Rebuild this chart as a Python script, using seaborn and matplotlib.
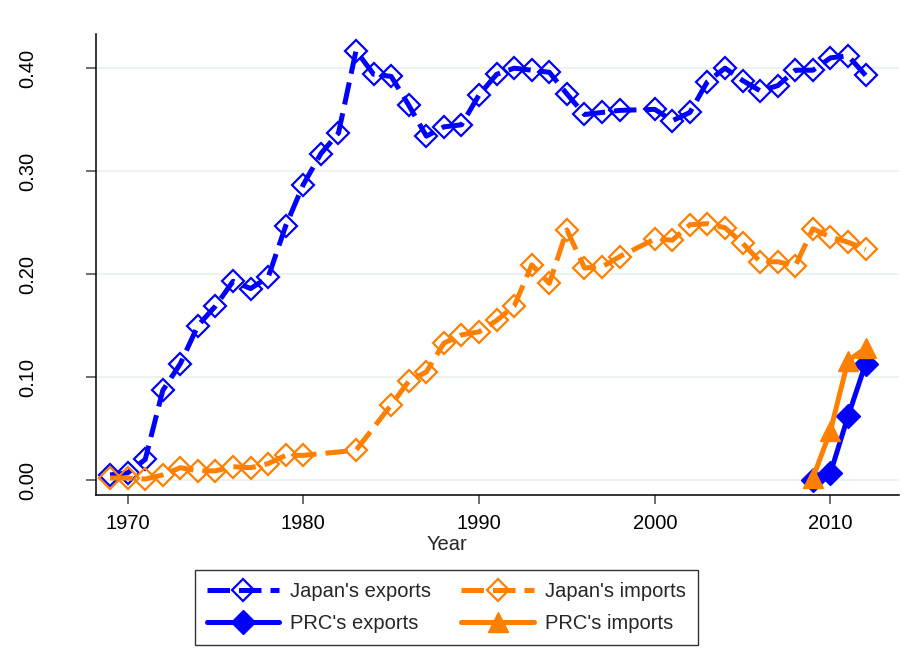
"""
Japan vs PRC trade shares, 1969-2012, drawn with seaborn line plots.
"""

import matplotlib
matplotlib.use("Agg")
import matplotlib.pyplot as plt
from matplotlib.ticker import FormatStrFormatter
import seaborn as sns

# Japan's exports (1999 not reported)
jp_exp_years = [1969, 1970, 1971, 1972, 1973, 1974, 1975, 1976, 1977, 1978,
                1979, 1980, 1981, 1982, 1983, 1984, 1985, 1986, 1987, 1988,
                1989, 1990, 1991, 1992, 1993, 1994, 1995, 1996, 1997, 1998,
                2000, 2001, 2002, 2003, 2004, 2005, 2006, 2007, 2008, 2009,
                2010, 2011, 2012]
jp_exp = [0.005, 0.007, 0.020, 0.087, 0.113, 0.150, 0.169, 0.193, 0.186, 0.197,
          0.247, 0.287, 0.317, 0.337, 0.417, 0.394, 0.392, 0.364, 0.334, 0.343,
          0.345, 0.374, 0.394, 0.400, 0.398, 0.396, 0.375, 0.355, 0.357, 0.359,
          0.360, 0.349, 0.357, 0.387, 0.400, 0.388, 0.378, 0.383, 0.398, 0.398,
          0.410, 0.412, 0.393]

# Japan's imports (1981, 1982, 1984, 1999 not reported)
jp_imp_years = [1969, 1970, 1971, 1972, 1973, 1974, 1975, 1976, 1977, 1978,
                1979, 1980, 1983, 1985, 1986, 1987, 1988, 1989, 1990, 1991,
                1992, 1993, 1994, 1995, 1996, 1997, 1998, 2000, 2001, 2002,
                2003, 2004, 2005, 2006, 2007, 2008, 2009, 2010, 2011, 2012]
jp_imp = [0.002, 0.002, 0.001, 0.005, 0.012, 0.009, 0.009, 0.013, 0.012, 0.016,
          0.024, 0.024, 0.029, 0.073, 0.096, 0.105, 0.133, 0.141, 0.144, 0.155,
          0.169, 0.209, 0.191, 0.243, 0.206, 0.207, 0.217, 0.234, 0.233, 0.248,
          0.249, 0.245, 0.230, 0.212, 0.212, 0.208, 0.244, 0.236, 0.231, 0.224]

prc_years = [2009, 2010, 2011, 2012]
prc_exp = [0.000, 0.007, 0.062, 0.113]
prc_imp = [0.002, 0.048, 0.116, 0.128]

x_ticks = [1970, 1980, 1990, 2000, 2010]
y_ticks = [0.0, 0.1, 0.2, 0.3, 0.4]

BLUE = "#0000ff"
ORANGE = "#ff7f00"
FS = 14.5

sns.set_style("ticks")
plt.rcParams["font.family"] = ["Liberation Sans", "DejaVu Sans"]
plt.rcParams["font.size"] = FS

fig = plt.figure(figsize=(9.09, 6.70), dpi=100)
ax = fig.add_axes([0.1056, 0.261, 0.8834, 0.688])

dash = (0, (4.5, 1.8))
common = dict(ax=ax, legend=False, errorbar=None, linewidth=3.6)

sns.lineplot(x=jp_exp_years, y=jp_exp, color=BLUE, linestyle=dash,
             marker="D", markersize=11, markerfacecolor="none",
             markeredgecolor=BLUE, markeredgewidth=1.6,
             label="Japan's exports", **common)
sns.lineplot(x=jp_imp_years, y=jp_imp, color=ORANGE, linestyle=dash,
             marker="D", markersize=11, markerfacecolor="none",
             markeredgecolor=ORANGE, markeredgewidth=1.6,
             label="Japan's imports", **common)
sns.lineplot(x=prc_years, y=prc_exp, color=BLUE, linestyle="-",
             marker="D", markersize=12, markerfacecolor=BLUE,
             markeredgecolor=BLUE, markeredgewidth=1,
             label="PRC's exports", **common)
sns.lineplot(x=prc_years, y=prc_imp, color=ORANGE, linestyle="-",
             marker="^", markersize=15, markerfacecolor=ORANGE,
             markeredgecolor=ORANGE, markeredgewidth=1,
             label="PRC's imports", **common)

ax.set_xlim(1968.2, 2013.9)
ax.set_ylim(-0.0146, 0.433)
ax.set_xticks(x_ticks)
ax.set_yticks(y_ticks)
ax.yaxis.set_major_formatter(FormatStrFormatter("%.2f"))

ax.grid(axis="y", color="#e8f1f3", linewidth=1.3)
ax.set_axisbelow(True)
for side in ["top", "right"]:
    ax.spines[side].set_visible(False)
for side in ["left", "bottom"]:
    ax.spines[side].set_color("black")
    ax.spines[side].set_linewidth(1.1)

ax.tick_params(axis="both", direction="out", color="#555555", width=1.2,
               labelsize=FS, labelcolor="black")
ax.tick_params(axis="y", length=7, pad=35, labelrotation=90)
ax.tick_params(axis="x", length=6.5, pad=7)
for lab in ax.get_yticklabels():
    lab.set_va("center")

ax.set_xlabel("Year", fontsize=FS)
ax.set_ylabel("")
ax.xaxis.set_label_coords(0.4366, -0.087)

handles, labels = ax.get_legend_handles_labels()
order = ["Japan's exports", "PRC's exports", "Japan's imports", "PRC's imports"]
hmap = dict(zip(labels, handles))
leg = fig.legend([hmap[k] for k in order], order, loc="upper center",
                 bbox_to_anchor=(0.491, 0.164), ncol=2, fontsize=FS,
                 frameon=True, fancybox=False, edgecolor="black",
                 handlelength=3.6, handletextpad=0.55, columnspacing=1.5,
                 labelspacing=0.62, borderpad=0.6, numpoints=1)
leg.get_frame().set_linewidth(1.0)

fig.savefig("out.png", dpi=100, facecolor="white")
